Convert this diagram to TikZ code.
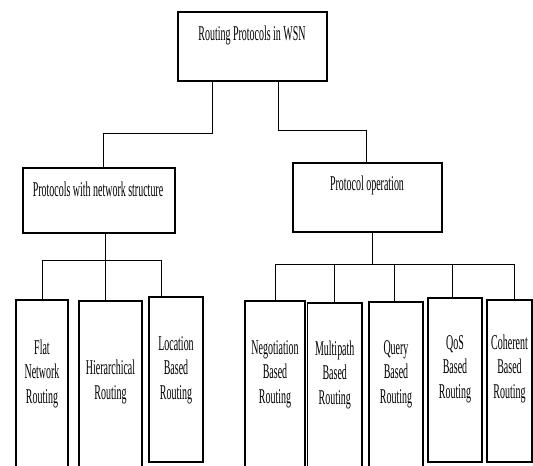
\documentclass[tikz,border=0pt]{standalone}
\usepackage{fontspec}
\setmainfont{Liberation Serif}[FakeStretch=0.475]
\newcommand{\boxfont}{\fontsize{21}{24.5}\selectfont}
\tikzset{
	box/.style={draw, line width=1.1pt, inner sep=0pt},
	leaf/.style n args={2}{box, minimum width=#1, minimum height=#2},
	lbl/.style={font=\boxfont, align=center, inner sep=0pt, anchor=base},
	link/.style={line width=0.8pt}
}

\begin{document}
\begin{tikzpicture}[x=1pt,y=-1pt]
			\clip (0,0) rectangle (533,466);
			% upper levels
			\node[leaf={149pt}{69pt}] (root) at (252.5,46.5) {};
			\node[lbl] (rootT) at (252,40) {Routing Protocols in WSN};
			\node[leaf={152pt}{65pt}] (struct) at (99,200.5) {};
			\node[lbl] (structT) at (98,196.5) {Protocols with network structure};
			\node[leaf={149pt}{69pt}] (oper) at (367.5,197.5) {};
			\node[lbl] (operT) at (367,190.5) {Protocol operation};
			% leaves, left (label placed at its last baseline)
			\node[leaf={52pt}{172pt}] (flat) at (42,386) {};
			\node[lbl] (flatT) at (42,403) {Flat\\Network\\Routing};
			\node[leaf={63pt}{171pt}] (hier) at (110.5,386.5) {};
			\node[lbl] (hierT) at (110.5,399) {Hierarchical\\Routing};
			\node[leaf={54pt}{165pt}] (loc) at (176,379.5) {};
			\node[lbl] (locT) at (176,399) {Location\\Based\\Routing};
			% leaves, right
			\node[leaf={60pt}{171pt}] (nego) at (275,386.5) {};
			\node[lbl] (negoT) at (275,403) {Negotiation\\Based\\Routing};
			\node[leaf={54.5pt}{169pt}] (multi) at (334.75,387.5) {};
			\node[lbl] (multiT) at (334.75,404) {Multipath\\Based\\Routing};
			\node[leaf={54pt}{170pt}] (query) at (396,387) {};
			\node[lbl] (queryT) at (396,403) {Query\\Based\\Routing};
			\node[leaf={54pt}{164pt}] (qos) at (455,380) {};
			\node[lbl] (qosT) at (455,398) {QoS\\Based\\Routing};
			\node[leaf={45pt}{162pt}] (coh) at (509.5,381) {};
			\node[lbl] (cohT) at (509.5,398) {Coherent\\Based\\Routing};
			% connectors
			\draw[link] ([xshift=-40.5]root.south) -- ++(0,52) -| ([xshift=4]struct.north);
			\draw[link] ([xshift=25.5]root.south) -- ++(0,49) -| ([xshift=-1.5]oper.north);
			\draw[link] ([xshift=6]struct.south) -- ++(0,27) coordinate (busL);
			\draw[link] (flat.north) |- (busL) -| ([xshift=-15]loc.north);
			\draw[link] ([xshift=-5.5]hier.north) |- (busL);
			\draw[link] ([xshift=5]oper.south) -- ++(0,32) coordinate (busR);
			\draw[link] (nego.north) |- (busR) -| ([xshift=4.5]coh.north);
			\foreach \n/\s in {multi/-0.75,query/-2,qos/-2.5}
				\draw[link] ([xshift=\s]\n.north) |- (busR);
		\end{tikzpicture}
\end{document}
